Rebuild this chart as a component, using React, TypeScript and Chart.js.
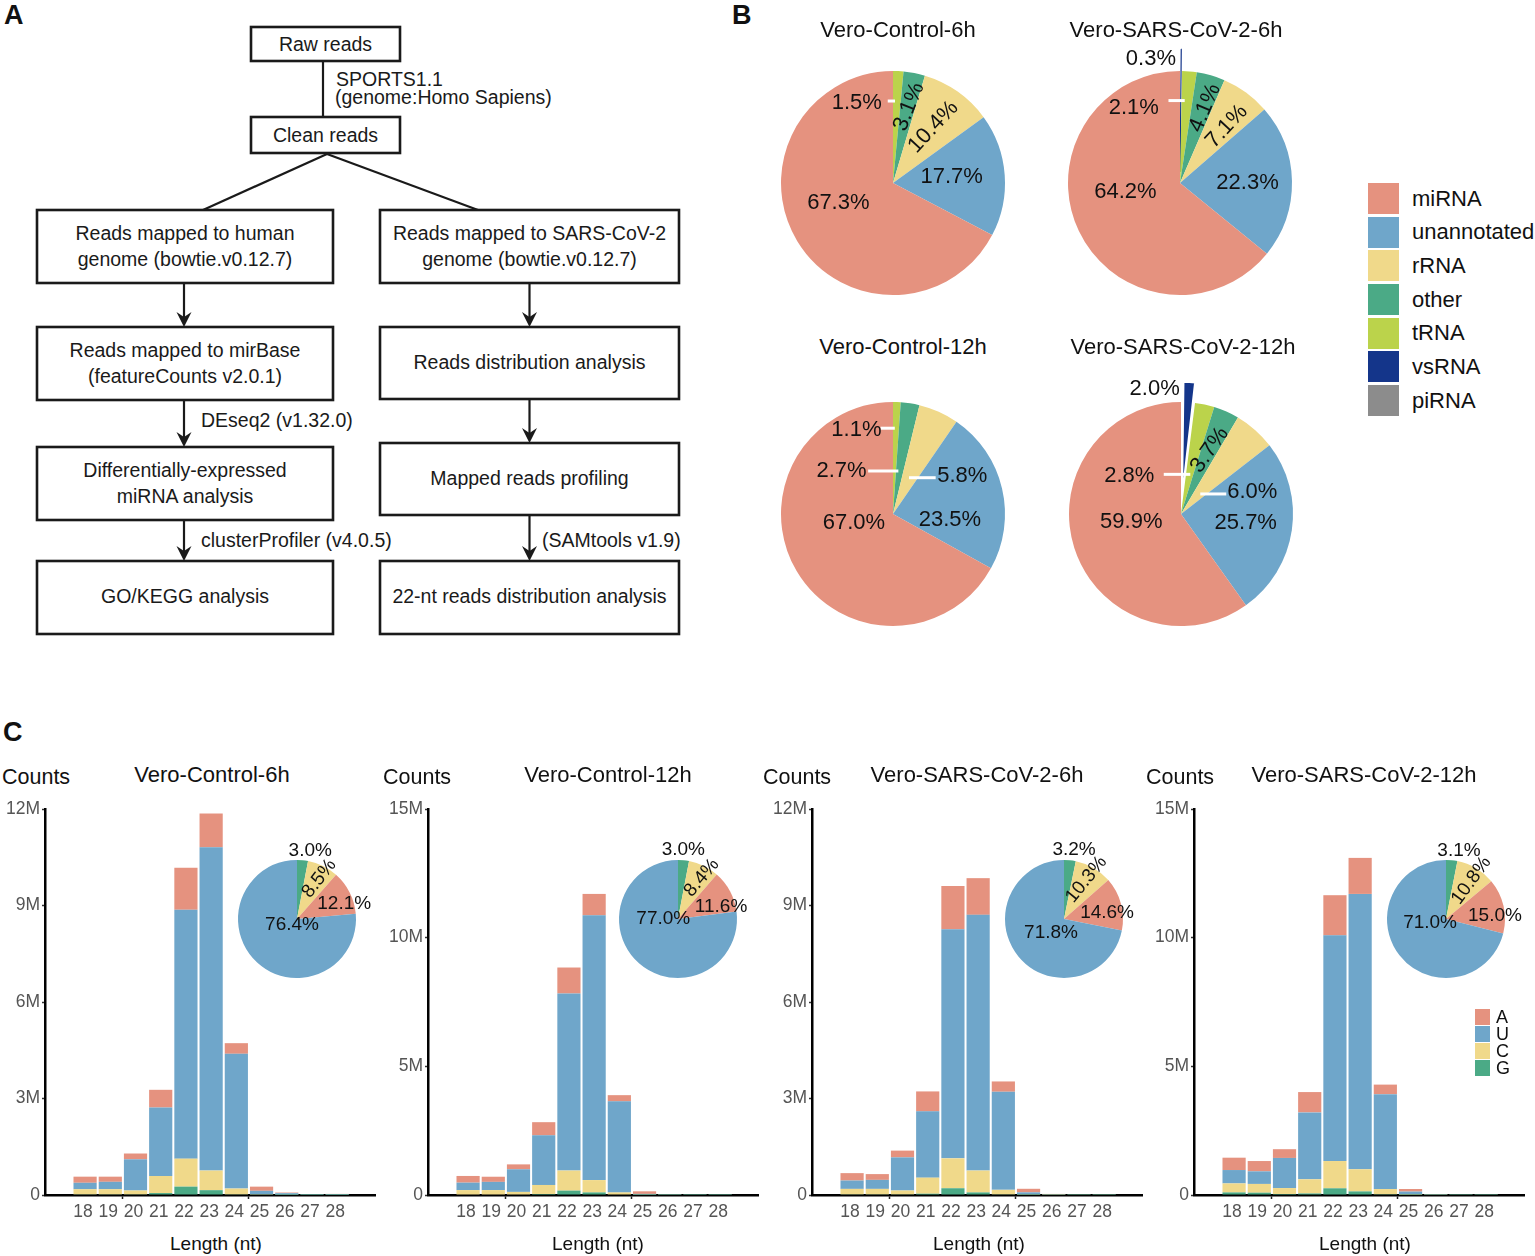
import React, { useEffect, useRef } from 'react';
import { Chart, registerables } from 'chart.js';

Chart.register(...registerables);

const FONT = '"Liberation Sans", Arial, Helvetica, sans-serif';

// ---------------- Panel B data ----------------
const rnaCategories = ['miRNA', 'unannotated', 'rRNA', 'other', 'tRNA', 'vsRNA', 'piRNA'];
const rnaColors = ['#E5927F', '#6FA6CA', '#F0D98A', '#4BAA86', '#BBD34B', '#14358A', '#8C8C8C'];
const pieTitles = ['Vero-Control-6h', 'Vero-SARS-CoV-2-6h', 'Vero-Control-12h', 'Vero-SARS-CoV-2-12h'];
const control6hRna = [67.3, 17.7, 10.4, 3.1, 1.5, 0, 0];
const sars6hRna = [64.2, 22.3, 7.1, 4.1, 2.1, 0.3, 0];
const control12hRna = [67.0, 23.5, 5.8, 2.7, 1.1, 0, 0];
const sars12hRna = [59.9, 25.7, 6.0, 3.7, 2.8, 2.0, 0];

// ---------------- Panel C data (counts in millions) ----------------
const lengths = [18, 19, 20, 21, 22, 23, 24, 25, 26, 27, 28];
const bases = ['A', 'U', 'C', 'G'];
const baseColors = ['#E5927F', '#6FA6CA', '#F0D98A', '#4BAA86'];
const barTitles = ['Vero-Control-6h', 'Vero-Control-12h', 'Vero-SARS-CoV-2-6h', 'Vero-SARS-CoV-2-12h'];

const ctl6hA = [0.19, 0.16, 0.18, 0.55, 1.30, 1.05, 0.33, 0.13, 0.02, 0.005, 0.01];
const ctl6hU = [0.20, 0.23, 0.97, 2.13, 7.74, 10.05, 4.19, 0.11, 0.05, 0.015, 0.02];
const ctl6hC = [0.16, 0.16, 0.12, 0.53, 0.87, 0.61, 0.18, 0.01, 0.005, 0.002, 0.003];
const ctl6hG = [0.02, 0.02, 0.02, 0.06, 0.26, 0.15, 0.02, 0.01, 0.002, 0.001, 0.001];

const ctl12hA = [0.26, 0.20, 0.19, 0.51, 1.01, 0.83, 0.24, 0.10, 0.01, 0.005, 0.005];
const ctl12hU = [0.29, 0.32, 0.88, 1.93, 6.88, 10.29, 3.54, 0.03, 0.01, 0.005, 0.005];
const ctl12hC = [0.17, 0.17, 0.10, 0.35, 0.78, 0.48, 0.08, 0.01, 0.002, 0.001, 0.001];
const ctl12hG = [0.02, 0.02, 0.02, 0.04, 0.17, 0.10, 0.02, 0.003, 0.001, 0.001, 0.001];

const sars6hA = [0.23, 0.18, 0.21, 0.62, 1.35, 1.14, 0.32, 0.11, 0.025, 0.005, 0.005];
const sars6hU = [0.26, 0.28, 1.03, 2.06, 7.12, 7.95, 3.05, 0.07, 0.005, 0.003, 0.003];
const sars6hC = [0.17, 0.17, 0.12, 0.50, 0.93, 0.68, 0.14, 0.01, 0.002, 0.001, 0.001];
const sars6hG = [0.02, 0.02, 0.02, 0.04, 0.21, 0.08, 0.02, 0.003, 0.001, 0.001, 0.001];

const sars12hA = [0.48, 0.40, 0.34, 0.79, 1.56, 1.40, 0.37, 0.10, 0.02, 0.005, 0.005];
const sars12hU = [0.52, 0.49, 1.17, 2.60, 8.77, 10.70, 3.69, 0.11, 0.01, 0.003, 0.003];
const sars12hC = [0.35, 0.34, 0.23, 0.55, 1.06, 0.86, 0.20, 0.02, 0.002, 0.001, 0.001];
const sars12hG = [0.10, 0.09, 0.04, 0.06, 0.26, 0.14, 0.03, 0.003, 0.001, 0.001, 0.001];

// inset pies: percentages of A, U, C, G
const ctl6hBasePct = [12.1, 76.4, 8.5, 3.0];
const ctl12hBasePct = [11.6, 77.0, 8.4, 3.0];
const sars6hBasePct = [14.6, 71.8, 10.3, 3.2];
const sars12hBasePct = [15.0, 71.0, 10.8, 3.1];

const yMaxes = [12, 15, 12, 15];
const ySteps = [3, 5, 3, 5];

// ---------------- label plugin ----------------
const sliceLabelPlugin = {
  id: 'sliceLabels',
  afterDatasetsDraw(chart: any, _args: any, opts: any) {
    const items = (opts && opts.items) || [];
    const meta = chart.getDatasetMeta(0);
    const arc0 = meta.data[0];
    if (!arc0) return;
    const cx = arc0.x;
    const cy = arc0.y;
    const R = arc0.outerRadius;
    const ctx = chart.ctx;
    const labels = chart.data.labels;
    const values = chart.data.datasets[0].data;
    items.forEach((it: any) => {
      const idx = labels.indexOf(it.cat);
      if (idx < 0) return;
      const text = Number(values[idx]).toFixed(1) + '%';
      if (it.leader) {
        ctx.save();
        ctx.strokeStyle = '#ffffff';
        ctx.lineWidth = opts.leaderWidth || 3;
        ctx.beginPath();
        ctx.moveTo(cx + it.leader[0] * R, cy + it.leader[2] * R);
        ctx.lineTo(cx + it.leader[1] * R, cy + it.leader[2] * R);
        ctx.stroke();
        ctx.restore();
      }
      ctx.save();
      ctx.translate(cx + it.x * R, cy + it.y * R);
      if (it.rot) ctx.rotate((it.rot * Math.PI) / 180);
      ctx.font = `${opts.size || 20}px ${FONT}`;
      ctx.fillStyle = '#111111';
      ctx.textAlign = 'center';
      ctx.textBaseline = 'middle';
      ctx.fillText(text, 0, 0);
      ctx.restore();
    });
  },
};

// label placements (relative to pie centre, in radius units)
const bLabelLayouts = [
  [
    { cat: 'tRNA', x: -0.324, y: -0.717, leader: [-0.047, 0.018, -0.732] },
    { cat: 'other', x: 0.143, y: -0.68, rot: -68 },
    { cat: 'rRNA', x: 0.36, y: -0.5, rot: -47 },
    { cat: 'unannotated', x: 0.524, y: -0.057 },
    { cat: 'miRNA', x: -0.488, y: 0.18 },
  ],
  [
    { cat: 'vsRNA', x: -0.26, y: -1.107 },
    { cat: 'tRNA', x: -0.413, y: -0.67, leader: [-0.103, 0.042, -0.736] },
    { cat: 'other', x: 0.224, y: -0.67, rot: -67 },
    { cat: 'rRNA', x: 0.417, y: -0.505, rot: -47 },
    { cat: 'unannotated', x: 0.603, y: 0.0 },
    { cat: 'miRNA', x: -0.487, y: 0.081 },
  ],
  [
    { cat: 'tRNA', x: -0.327, y: -0.754, leader: [-0.111, 0.016, -0.766] },
    { cat: 'other', x: -0.46, y: -0.384, leader: [-0.222, 0.048, -0.384] },
    { cat: 'rRNA', x: 0.619, y: -0.339, leader: [0.143, 0.381, -0.324] },
    { cat: 'unannotated', x: 0.508, y: 0.051 },
    { cat: 'miRNA', x: -0.349, y: 0.08 },
  ],
  [
    { cat: 'vsRNA', x: -0.235, y: -1.12 },
    { cat: 'tRNA', x: -0.462, y: -0.339, leader: [-0.154, 0.083, -0.354] },
    { cat: 'other', x: 0.256, y: -0.571, rot: -55 },
    { cat: 'rRNA', x: 0.636, y: -0.194, leader: [0.172, 0.404, -0.179] },
    { cat: 'unannotated', x: 0.578, y: 0.083 },
    { cat: 'miRNA', x: -0.444, y: 0.069 },
  ],
];

const insetLabelLayouts = [
  [
    { cat: 'G', x: 0.225, y: -1.163 },
    { cat: 'C', x: 0.376, y: -0.685, rot: -52 },
    { cat: 'A', x: 0.8, y: -0.264 },
    { cat: 'U', x: -0.084, y: 0.1 },
  ],
  [
    { cat: 'G', x: 0.09, y: -1.17 },
    { cat: 'C', x: 0.4, y: -0.7, rot: -50 },
    { cat: 'A', x: 0.73, y: -0.21 },
    { cat: 'U', x: -0.25, y: 0.0 },
  ],
  [
    { cat: 'G', x: 0.17, y: -1.17 },
    { cat: 'C', x: 0.38, y: -0.67, rot: -51 },
    { cat: 'A', x: 0.73, y: -0.1 },
    { cat: 'U', x: -0.22, y: 0.23 },
  ],
  [
    { cat: 'G', x: 0.22, y: -1.16 },
    { cat: 'C', x: 0.43, y: -0.65, rot: -54 },
    { cat: 'A', x: 0.83, y: -0.05 },
    { cat: 'U', x: -0.27, y: 0.06 },
  ],
];

// ---------------- helpers ----------------
function ChartBox(props: { left: number; top: number; width: number; height: number; make: () => any }) {
  const ref = useRef<HTMLCanvasElement>(null);
  useEffect(() => {
    const chart = new Chart(ref.current as HTMLCanvasElement, props.make());
    return () => chart.destroy();
  }, []);
  return (
    <canvas
      ref={ref}
      width={props.width}
      height={props.height}
      style={{ position: 'absolute', left: props.left, top: props.top, width: props.width, height: props.height }}
    />
  );
}

function T(props: { x: number; y: number; size: number; children: any; anchor?: 'start' | 'middle' | 'end'; bold?: boolean; color?: string }) {
  const anchor = props.anchor || 'middle';
  const tx = anchor === 'middle' ? '-50%' : anchor === 'end' ? '-100%' : '0';
  return (
    <div
      style={{
        position: 'absolute',
        left: props.x,
        top: props.y,
        transform: `translate(${tx}, -50%)`,
        fontSize: props.size,
        lineHeight: 1,
        whiteSpace: 'nowrap',
        fontFamily: FONT,
        fontWeight: props.bold ? 'bold' : 'normal',
        color: props.color || '#111',
      }}
    >
      {props.children}
    </div>
  );
}

function pieConfig(labels: string[], values: number[], colors: string[], radius: number, items: any[], size: number, explode?: string) {
  return {
    type: 'pie',
    data: {
      labels,
      datasets: [
        {
          data: values,
          backgroundColor: colors,
          borderColor: labels.map((l, i) => (l === explode && values[i] < 1 ? colors[i] : '#ffffff')),
          borderWidth: labels.map((l, i) => (l === explode && values[i] > 0 ? (values[i] >= 1 ? 2.5 : 1.2) : 0)),
          radius,
          offset: labels.map((l) => (l === explode ? 44 : 0)),
        },
      ],
    },
    options: {
      responsive: false,
      animation: false,
      radius,
      layout: { padding: 0 },
      events: [],
      plugins: {
        legend: { display: false },
        tooltip: { enabled: false },
        sliceLabels: { items, size, leaderWidth: 3 },
      },
    },
    plugins: [sliceLabelPlugin],
  };
}

function barConfig(series: number[][], yMax: number, yStep: number) {
  // series order: A, U, C, G ; stack bottom->top: G, C, U, A
  const order = [3, 2, 1, 0];
  return {
    type: 'bar',
    data: {
      datasets: order.map((k) => ({
        label: bases[k],
        data: lengths.map((x, i) => ({ x, y: series[k][i] })),
        backgroundColor: baseColors[k],
        borderWidth: 0,
        barPercentage: 0.92,
        categoryPercentage: 1,
      })),
    },
    options: {
      responsive: false,
      animation: false,
      events: [],
      layout: { padding: { top: 19, right: 10, left: 0, bottom: 0 } },
      plugins: { legend: { display: false }, tooltip: { enabled: false } },
      scales: {
        x: {
          type: 'linear',
          min: 16.41,
          max: 29.5,
          stacked: true,
          offset: false,
          afterFit: (s: any) => {
            s.height = 35;
          },
          border: { display: true, color: '#000', width: 2.5 },
          grid: {
            display: true,
            drawOnChartArea: false,
            drawTicks: true,
            tickLength: 4,
            tickWidth: 1.5,
            tickColor: (c: any) => (c.tick && (c.tick.value === 20 || c.tick.value === 25) ? '#222' : 'rgba(0,0,0,0)'),
          },
          ticks: {
            stepSize: 1,
            includeBounds: false,
            autoSkip: false,
            maxRotation: 0,
            minRotation: 0,
            padding: 3,
            labelOffset: -2,
            color: '#555',
            font: { family: FONT, size: 17.5 },
            callback: (v: any) => (v >= 18 && v <= 28 ? String(v) : ''),
          },
        },
        y: {
          min: 0,
          max: yMax,
          stacked: true,
          afterFit: (s: any) => {
            s.width = 45;
          },
          border: { display: true, color: '#000', width: 2.5 },
          grid: { display: true, drawOnChartArea: false, drawTicks: true, tickLength: 3, tickWidth: 1.5, tickColor: '#333' },
          ticks: {
            stepSize: yStep,
            padding: 2,
            color: '#555',
            font: { family: FONT, size: 17.5 },
            callback: (v: any) => (v === 0 ? '0' : `${v}M`),
          },
        },
      },
    },
  };
}

// ---------------- Panel A flowchart ----------------
function Arrow({ x, y1, y2 }: { x: number; y1: number; y2: number }) {
  return (
    <g>
      <line x1={x} y1={y1} x2={x} y2={y2 - 8} stroke="#1a1a1a" strokeWidth={2.2} />
      <polygon points={`${x},${y2} ${x - 7.5},${y2 - 15} ${x},${y2 - 10} ${x + 7.5},${y2 - 15}`} fill="#1a1a1a" />
    </g>
  );
}

function FlowChart() {
  const box = { fill: 'none', stroke: '#1a1a1a', strokeWidth: 2.6 };
  const txt = { fontFamily: FONT, fontSize: 19.5, fill: '#1a1a1a' } as any;
  const mid = (x: number, y: number, s: string) => (
    <text x={x} y={y} textAnchor="middle" dominantBaseline="central" {...txt}>
      {s}
    </text>
  );
  const start = (x: number, y: number, s: string) => (
    <text x={x} y={y} textAnchor="start" dominantBaseline="central" {...txt}>
      {s}
    </text>
  );
  const L = 185;
  const Rx = 529.5;
  return (
    <svg width={700} height={650} style={{ position: 'absolute', left: 0, top: 0 }}>
      <rect x={251} y={27} width={149} height={34} {...box} />
      <rect x={251} y={117} width={149} height={36} {...box} />
      <line x1={323} y1={61} x2={323} y2={117} stroke="#1a1a1a" strokeWidth={2.2} />
      <line x1={327} y1={154} x2={203} y2={210} stroke="#1a1a1a" strokeWidth={2.2} />
      <line x1={327} y1={154} x2={478} y2={210} stroke="#1a1a1a" strokeWidth={2.2} />
      <rect x={37} y={210} width={296} height={73} {...box} />
      <rect x={380} y={210} width={299} height={73} {...box} />
      <rect x={37} y={327} width={296} height={73} {...box} />
      <rect x={380} y={327} width={299} height={72} {...box} />
      <rect x={37} y={447} width={296} height={73} {...box} />
      <rect x={380} y={443} width={299} height={72} {...box} />
      <rect x={37} y={561} width={296} height={73} {...box} />
      <rect x={380} y={561} width={299} height={73} {...box} />
      <Arrow x={184} y1={283} y2={327} />
      <Arrow x={184} y1={400} y2={447} />
      <Arrow x={184} y1={520} y2={561} />
      <Arrow x={Rx} y1={283} y2={327} />
      <Arrow x={Rx} y1={399} y2={443} />
      <Arrow x={Rx} y1={515} y2={561} />
      {mid(325.5, 44, 'Raw reads')}
      {mid(325.5, 135, 'Clean reads')}
      {start(336, 79, 'SPORTS1.1')}
      {start(335, 97, '(genome:Homo Sapiens)')}
      {mid(L, 233, 'Reads mapped to human')}
      {mid(L, 259, 'genome (bowtie.v0.12.7)')}
      {mid(Rx, 233, 'Reads mapped to SARS-CoV-2')}
      {mid(Rx, 259, 'genome (bowtie.v0.12.7)')}
      {mid(L, 350, 'Reads mapped to mirBase')}
      {mid(L, 376, '(featureCounts v2.0.1)')}
      {mid(Rx, 362, 'Reads distribution analysis')}
      {mid(L, 470, 'Differentially-expressed')}
      {mid(L, 496, 'miRNA analysis')}
      {mid(Rx, 478, 'Mapped reads profiling')}
      {mid(L, 596, 'GO/KEGG analysis')}
      {mid(Rx, 596, '22-nt reads distribution analysis')}
      {start(201, 420, 'DEseq2 (v1.32.0)')}
      {start(201, 540, 'clusterProfiler (v4.0.5)')}
      {start(542, 540, '(SAMtools v1.9)')}
    </svg>
  );
}

// ---------------- App ----------------
export default function App() {
  const rnaSets = [control6hRna, sars6hRna, control12hRna, sars12hRna];
  const pieCenters = [
    [893, 183],
    [1180, 183],
    [893, 514],
    [1181, 514],
  ];
  const pieTitlePos = [
    [898, 30],
    [1176, 30],
    [903, 347],
    [1183, 347],
  ];
  const revLabels = [...rnaCategories].reverse();
  const revColors = [...rnaColors].reverse();

  const barSets = [
    [ctl6hA, ctl6hU, ctl6hC, ctl6hG],
    [ctl12hA, ctl12hU, ctl12hC, ctl12hG],
    [sars6hA, sars6hU, sars6hC, sars6hG],
    [sars12hA, sars12hU, sars12hC, sars12hG],
  ];
  const basePcts = [ctl6hBasePct, ctl12hBasePct, sars6hBasePct, sars12hBasePct];
  const axisX = [45, 428, 812, 1194];
  const barTitleX = [212, 608, 977, 1364];
  const countsX = [2, 383, 763, 1146];
  const lengthX = [216, 598, 979, 1365];
  const insetCenters = [
    [296.5, 919],
    [678.3, 919],
    [1063.8, 919],
    [1446, 919],
  ];
  const insetOrder = [3, 2, 0, 1]; // G, C, A, U clockwise from top

  return (
    <div
      style={{
        position: 'absolute',
        left: 0,
        top: 0,
        width: 1535,
        height: 1256,
        background: '#fff',
        overflow: 'hidden',
        fontFamily: FONT,
      }}
    >
      <FlowChart />
      <T x={4} y={15} size={27} bold anchor="start">A</T>
      <T x={732} y={15} size={27} bold anchor="start">B</T>
      <T x={3} y={732} size={27} bold anchor="start">C</T>

      {rnaSets.map((vals, i) => (
        <ChartBox
          key={'pie' + i}
          left={pieCenters[i][0] - 150}
          top={pieCenters[i][1] - 150}
          width={300}
          height={300}
          make={() => pieConfig(revLabels, [...vals].reverse(), revColors, 112, bLabelLayouts[i], 22, 'vsRNA')}
        />
      ))}
      {pieTitles.map((t, i) => (
        <T key={'pt' + i} x={pieTitlePos[i][0]} y={pieTitlePos[i][1]} size={22}>
          {t}
        </T>
      ))}
      {rnaCategories.map((c, i) => (
        <React.Fragment key={'lg' + i}>
          <div
            style={{
              position: 'absolute',
              left: 1368,
              top: 183 + i * 33.67,
              width: 31,
              height: 31,
              background: rnaColors[i],
            }}
          />
          <T x={1412} y={198.5 + i * 33.67} size={22} anchor="start">
            {c}
          </T>
        </React.Fragment>
      ))}

      {barSets.map((s, i) => (
        <ChartBox
          key={'bar' + i}
          left={axisX[i] - 45}
          top={790}
          width={385}
          height={440}
          make={() => barConfig(s, yMaxes[i], ySteps[i])}
        />
      ))}
      {barTitles.map((t, i) => (
        <React.Fragment key={'bt' + i}>
          <T x={barTitleX[i]} y={775} size={22}>
            {t}
          </T>
          <T x={countsX[i]} y={778} size={21.5} anchor="start">
            Counts
          </T>
          <T x={lengthX[i]} y={1243} size={19}>
            Length (nt)
          </T>
        </React.Fragment>
      ))}
      {basePcts.map((p, i) => (
        <ChartBox
          key={'inset' + i}
          left={insetCenters[i][0] - 90}
          top={insetCenters[i][1] - 90}
          width={180}
          height={180}
          make={() =>
            pieConfig(
              insetOrder.map((k) => bases[k]),
              insetOrder.map((k) => p[k]),
              insetOrder.map((k) => baseColors[k]),
              59,
              insetLabelLayouts[i],
              19
            )
          }
        />
      ))}
      {bases.map((b, i) => (
        <React.Fragment key={'bl' + i}>
          <div
            style={{
              position: 'absolute',
              left: 1475,
              top: 1008.5 + i * 17,
              width: 15,
              height: 16,
              background: baseColors[i],
            }}
          />
          <T x={1496} y={1016.5 + i * 17} size={18} anchor="start">
            {b}
          </T>
        </React.Fragment>
      ))}
    </div>
  );
}
